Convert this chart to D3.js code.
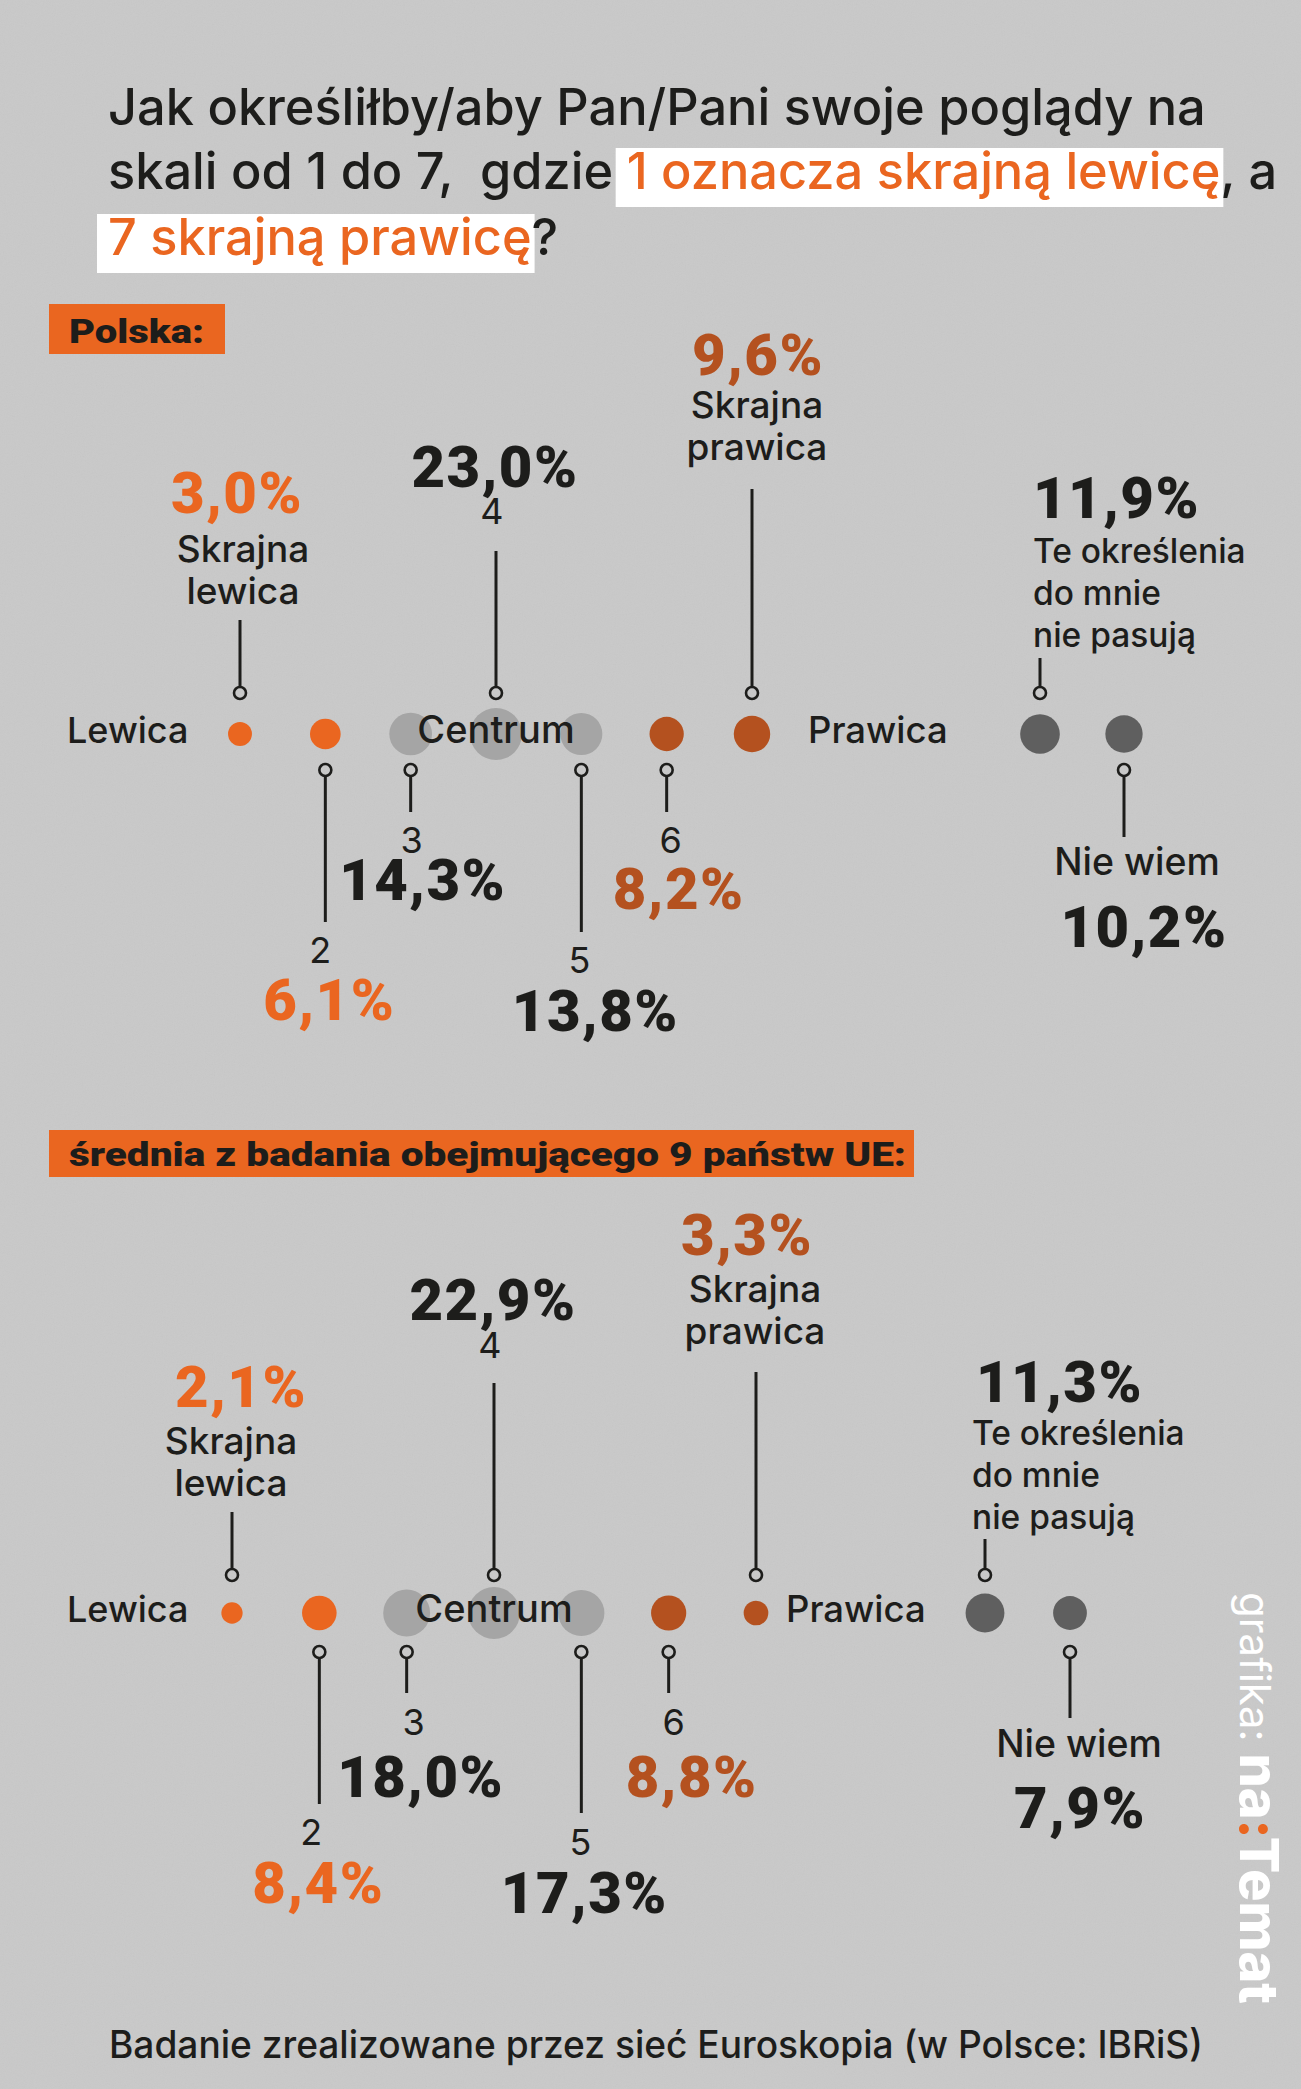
<!DOCTYPE html>
<html>
<head>
<meta charset="utf-8">
<script src="https://cdn.jsdelivr.net/npm/d3@7"></script>
<style>
  body { margin: 0; background: #c9c9c9; }
  svg { display: block; }
  text { white-space: pre; }
</style>
</head>
<body>
<div id="chart"></div>
<script>
// --- data ---
const categories = ["1", "2", "3", "4", "5", "6", "7", "np", "nw"];
const scaleKeys = ["1", "2", "3", "4", "5", "6", "7"];
const extraKeys = ["np", "nw"];
const categoryLabels = [
  ["Skrajna", "lewica"], ["2"], ["3"], ["4"], ["5"], ["6"],
  ["Skrajna", "prawica"], ["Te określenia", "do mnie", "nie pasują"], ["Nie wiem"]
];
const labelSides = ["up", "down", "down", "up", "down", "down", "up", "up", "down"];
const polskaValues = [3.0, 6.1, 14.3, 23.0, 13.8, 8.2, 9.6, 11.9, 10.2];
const ueValues = [2.1, 8.4, 18.0, 22.9, 17.3, 8.8, 3.3, 11.3, 7.9];
const axisLabels = ["Lewica", "Centrum", "Prawica"];
const panelTitles = ["Polska:", "średnia z badania obejmującego 9 państw UE:"];
const titleLines = [
  [{ t: "Jak określiłby/aby Pan/Pani swoje poglądy na" }],
  [{ t: "skali od 1 do 7,  gdzie " }, { t: "1 oznacza skrajną lewicę", hi: true }, { t: ", a" }],
  [{ t: "7 skrajną prawicę", hi: true }, { t: "?" }]
];
const footerText = "Badanie zrealizowane przez sieć Euroskopia (w Polsce: IBRiS)";

// --- style ---
const W = 1301, H = 2089;
const C = {
  bg: "#c9c9c9", ink: "#1d1d1b", orange: "#ea6620", darkOrange: "#b4511f",
  lightGrey: "#a5a5a5", darkGrey: "#5f5f5f"
};
const dotColor = d3.scaleOrdinal().domain(categories)
  .range([C.orange, C.orange, C.lightGrey, C.lightGrey, C.lightGrey, C.darkOrange, C.darkOrange, C.darkGrey, C.darkGrey]);
const pctColor = d3.scaleOrdinal().domain(categories)
  .range([C.orange, C.orange, C.ink, C.ink, C.ink, C.darkOrange, C.darkOrange, C.ink, C.ink]);
const fmt = v => d3.format(".1f")(v).replace(".", ",") + "%";
const r = d3.scaleSqrt().domain([0, 23]).range([4, 26]);

const SANS = "Inter, 'Noto Sans', sans-serif";
const HEAVY = "Roboto, 'Noto Sans', sans-serif";

// layout of each panel (offsets relative to the row of dots)
const panels = [
  {
    values: polskaValues, title: panelTitles[0],
    box: [49, 304, 225, 354], titleBase: 343, titleW: 135,
    rowY: 734, range: [240, 752], extra: [1040, 1124], prawicaX: 808,
    markUp: -41, markDown: 36,
    lineEnd: [-114, 188, 78, -183, 198, 78, -245, -76, 103],
    labelY: [-172, 229, 119, -210, 239, 119, -316, -171, 141],
    pctY: [-221, 286, 166, -247, 297, 175, -359, -216, 213],
    labelDx: [3, -5, 1, -4, -2, 4, 5, -7, 13],
    pctDx: [-3, 4, 12, -1, 14, 12, 6, -7, 20]
  },
  {
    values: ueValues, title: panelTitles[1],
    box: [49, 1130, 914, 1177], titleBase: 1166, titleW: 837,
    rowY: 1613, range: [232, 756], extra: [985, 1070], prawicaX: 786,
    markUp: -38, markDown: 39,
    lineEnd: [-101, 191, 80, -230, 200, 80, -241, -74, 105],
    labelY: [-159, 232, 122, -255, 242, 122, -311, -168, 144],
    pctY: [-206, 290, 184, -293, 300, 184, -358, -211, 215],
    labelDx: [-1, -8, 7, -4, -1, 5, -1, -13, 9],
    pctDx: [9, -1, 14, -1, 3, 23, -9, -9, 10]
  }
];

const svg = d3.select("#chart").append("svg")
  .attr("width", W).attr("height", H);

// background with a light grain
const defs = svg.append("defs");
const grain = defs.append("filter").attr("id", "grain").attr("x", 0).attr("y", 0).attr("width", 1).attr("height", 1);
grain.append("feTurbulence").attr("type", "fractalNoise").attr("baseFrequency", 0.9).attr("numOctaves", 2).attr("seed", 3);
grain.append("feColorMatrix").attr("type", "saturate").attr("values", 0);
svg.append("rect").attr("width", W).attr("height", H).attr("fill", C.bg);
svg.append("rect").attr("width", W).attr("height", H).attr("filter", "url(#grain)").attr("opacity", 0.07);

// --- title ---
const title = svg.append("g");
const titleX = 108, titleBase = [125, 189, 255];
let titleSize = 50;
{
  const probe = title.append("text").attr("font-family", SANS).attr("font-size", titleSize)
    .attr("font-weight", 500).text(titleLines[0][0].t);
  titleSize = titleSize * 1098 / probe.node().getComputedTextLength();
  probe.remove();
}
titleLines.forEach((segs, li) => {
  let x = titleX;
  segs.forEach(seg => {
    const t = title.append("text")
      .attr("x", x).attr("y", titleBase[li])
      .attr("font-family", SANS).attr("font-size", titleSize)
      .attr("font-weight", seg.hi ? 500 : 500)
      .attr("fill", seg.hi ? C.orange : C.ink)
      .text(seg.t);
    const w = t.node().getComputedTextLength();
    if (seg.hi) {
      title.insert("rect", "text")
        .attr("x", x - 11).attr("y", titleBase[li] - 41)
        .attr("width", w + 14).attr("height", 59)
        .attr("fill", "#ffffff");
    }
    x += w;
  });
});

// --- panels ---
panels.forEach(p => {
  const g = svg.append("g");
  const x = d3.scalePoint().domain(scaleKeys).range(p.range);
  const xe = d3.scalePoint().domain(extraKeys).range(p.extra);
  const px = k => scaleKeys.includes(k) ? x(k) : xe(k);
  const rows = categories.map((k, i) => ({
    key: k, i, value: p.values[i], side: labelSides[i], lines: categoryLabels[i]
  }));

  // section header
  g.append("rect")
    .attr("x", p.box[0]).attr("y", p.box[1])
    .attr("width", p.box[2] - p.box[0]).attr("height", p.box[3] - p.box[1])
    .attr("fill", C.orange);
  g.append("text")
    .attr("x", p.box[0] + 20).attr("y", p.titleBase)
    .attr("font-family", HEAVY).attr("font-weight", 900).attr("font-size", 34)
    .attr("fill", C.ink)
    .attr("textLength", p.titleW).attr("lengthAdjust", "spacingAndGlyphs")
    .text(p.title);

  // dots
  g.selectAll("circle.dot").data(rows).join("circle")
    .attr("class", "dot")
    .attr("cx", d => px(d.key)).attr("cy", p.rowY)
    .attr("r", d => r(d.value))
    .attr("fill", d => dotColor(d.key));

  // axis words
  const axisWord = (txt, xx, anchor, size) => g.append("text")
    .attr("x", xx).attr("y", p.rowY + 9).attr("text-anchor", anchor)
    .attr("font-family", SANS).attr("font-weight", 500).attr("font-size", size)
    .attr("fill", C.ink).text(txt);
  axisWord(axisLabels[0], 67, "start", 36);
  axisWord(axisLabels[1], x("4"), "middle", 38);
  axisWord(axisLabels[2], p.prawicaX, "start", 36.5);

  // leader lines with ring markers
  const mr = 6;
  const leaders = g.selectAll("g.leader").data(rows).join("g").attr("class", "leader");
  leaders.append("line")
    .attr("x1", d => px(d.key)).attr("x2", d => px(d.key))
    .attr("y1", d => d.side === "up" ? p.rowY + p.markUp - mr : p.rowY + p.markDown + mr)
    .attr("y2", d => p.rowY + p.lineEnd[d.i])
    .attr("stroke", C.ink).attr("stroke-width", 3);
  leaders.append("circle")
    .attr("cx", d => px(d.key))
    .attr("cy", d => d.side === "up" ? p.rowY + p.markUp : p.rowY + p.markDown)
    .attr("r", mr).attr("fill", "none")
    .attr("stroke", C.ink).attr("stroke-width", 2.6);

  // labels
  rows.forEach(d => {
    const isNum = d.lines.length === 1 && /^\d$/.test(d.lines[0]);
    const anchor = d.key === "np" ? "start" : "middle";
    const size = isNum ? 36 : d.key === "np" ? 33.5 : d.key === "nw" ? 37.5 : 37;
    d.lines.forEach((ln, j) => {
      g.append("text")
        .attr("x", px(d.key) + p.labelDx[d.i])
        .attr("y", p.rowY + p.labelY[d.i] + j * 42)
        .attr("text-anchor", anchor)
        .attr("font-family", SANS)
        .attr("font-weight", isNum ? 400 : 500)
        .attr("font-size", size)
        .attr("fill", C.ink)
        .text(ln);
    });
    g.append("text")
      .attr("x", px(d.key) + p.pctDx[d.i])
      .attr("y", p.rowY + p.pctY[d.i])
      .attr("text-anchor", anchor)
      .attr("font-family", HEAVY).attr("font-weight", 900).attr("font-size", 58)
      .attr("letter-spacing", 1.5)
      .attr("fill", pctColor(d.key))
      .text(fmt(d.value));
  });
});

// --- footer ---
svg.append("text")
  .attr("x", 109).attr("y", 2058)
  .attr("font-family", SANS).attr("font-weight", 500).attr("font-size", 38)
  .attr("fill", C.ink)
  .attr("textLength", 1094).attr("lengthAdjust", "spacingAndGlyphs")
  .text(footerText);

// --- credit, rotated ---
const credit = svg.append("text")
  .attr("transform", "translate(1240,1592) rotate(90)")
  .attr("font-family", SANS).attr("fill", "#ffffff");
credit.append("tspan").attr("font-size", 42).attr("font-weight", 400).text("grafika: ");
credit.append("tspan").attr("font-size", 54).attr("font-weight", 800).text("na");
credit.append("tspan").attr("font-size", 54).attr("font-weight", 800).attr("fill", C.orange).text(":");
credit.append("tspan").attr("font-size", 54).attr("font-weight", 800).text("Temat");
</script>
</body>
</html>
